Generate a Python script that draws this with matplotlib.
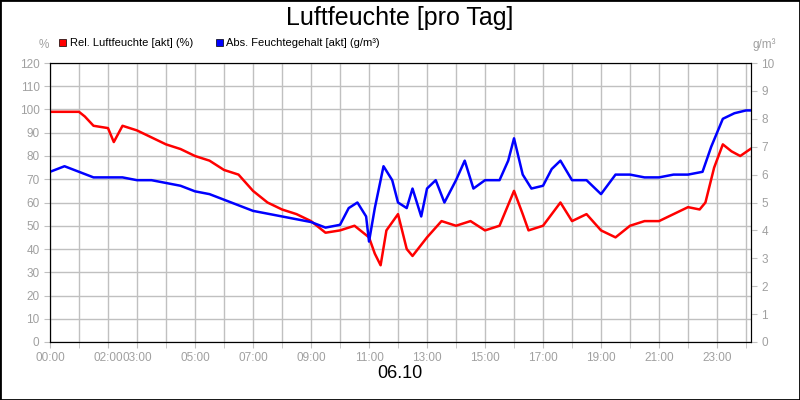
import matplotlib
matplotlib.use("Agg")
import matplotlib.pyplot as plt
from matplotlib.patches import Rectangle
plt.rcParams['font.family'] = ['Liberation Sans', 'DejaVu Sans']

rel_t = [0,1,1.2,1.5,2,2.2,2.5,3,3.5,4,4.5,5,5.5,6,6.5,7,7.5,8,8.5,9,9.5,10,10.5,11,11.2,11.4,11.6,12,12.3,12.5,13,13.5,14,14.5,15,15.5,16,16.3,16.5,17,17.3,17.6,18,18.5,19,19.5,20,20.5,21,21.5,22,22.4,22.6,22.9,23.2,23.5,23.8,24.15]
rel_v = [99,99,97,93,92,86,93,91,88,85,83,80,78,74,72,65,60,57,55,52,47,48,50,45,38,33,48,55,40,37,45,52,50,52,48,50,65,55,48,50,55,60,52,55,48,45,50,52,52,55,58,57,60,75,85,82,80,83]
abs_t = [0,0.5,1,1.5,2,2.5,3,3.5,4,4.5,5,5.5,6,6.5,7,7.5,8,8.5,9,9.5,10,10.3,10.6,10.9,11,11.2,11.5,11.8,12,12.3,12.5,12.8,13,13.3,13.6,14,14.3,14.6,15,15.5,15.8,16,16.3,16.6,17,17.3,17.6,18,18.5,19,19.5,20,20.5,21,21.5,22,22.5,22.8,23.2,23.6,24,24.15]
abs_v = [6.1,6.3,6.1,5.9,5.9,5.9,5.8,5.8,5.7,5.6,5.4,5.3,5.1,4.9,4.7,4.6,4.5,4.4,4.3,4.1,4.2,4.8,5.0,4.5,3.6,4.8,6.3,5.8,5.0,4.8,5.5,4.5,5.5,5.8,5.0,5.8,6.5,5.5,5.8,5.8,6.5,7.3,6.0,5.5,5.6,6.2,6.5,5.8,5.8,5.3,6.0,6.0,5.9,5.9,6.0,6.0,6.1,7.0,8.0,8.2,8.3,8.3]
tick_pos = [0,2,3,5,7,9,11,13,15,17,19,21,23]
tick_lbl = ["00:00","02:00","03:00","05:00","07:00","09:00","11:00","13:00","15:00","17:00","19:00","21:00","23:00"]

fig = plt.figure(figsize=(8,4), dpi=100)
fig.patches.append(Rectangle((0,0),1,1,transform=fig.transFigure,fill=False,edgecolor='black',linewidth=2))
ax = fig.add_axes([0.0625,0.145,0.8762,0.6975])
ax2 = ax.twinx()
gc = '#c0c0c0'
ax.set_xlim(0,24.17); ax.set_ylim(0,120); ax2.set_ylim(0,10)
ax.set_yticks(range(0,121,10)); ax2.set_yticks(range(0,11))
ax.set_xticks(tick_pos); ax.set_xticklabels(tick_lbl)
ax.set_xticks(range(0,25), minor=True)
ax.grid(True, which='both', axis='x', color=gc, lw=1)
ax.grid(True, which='major', axis='y', color=gc, lw=1)
for a in (ax, ax2):
    a.tick_params(colors=gc, labelcolor='#a0a0a0', labelsize=8.5, length=4, which='both')
    for s in a.spines.values(): s.set_color('black')
ax.plot(rel_t, rel_v, color='#ff0000', lw=1.8)
ax2.plot(abs_t, abs_v, color='#0000ff', lw=1.8)
fig.text(0.5,0.955,"Luftfeuchte [pro Tag]",ha='center',va='center',fontsize=18)
fig.text(0.5,0.065,"06.10",ha='center',va='center',fontsize=13)
fig.text(0.055,0.88,"%",ha='center',color='#a0a0a0',fontsize=8.5)
fig.text(0.955,0.88,"g/m³",ha='center',color='#a0a0a0',fontsize=8.5)
fig.patches.append(Rectangle((0.074,0.885),0.009,0.018,transform=fig.transFigure,facecolor='#ff0000',edgecolor='black',lw=0.5))
fig.text(0.087,0.893,"Rel. Luftfeuchte [akt] (%)",va='center',fontsize=8)
fig.patches.append(Rectangle((0.27,0.885),0.009,0.018,transform=fig.transFigure,facecolor='#0000ff',edgecolor='black',lw=0.5))
fig.text(0.283,0.893,"Abs. Feuchtegehalt [akt] (g/m³)",va='center',fontsize=8)
fig.savefig("out.png")
